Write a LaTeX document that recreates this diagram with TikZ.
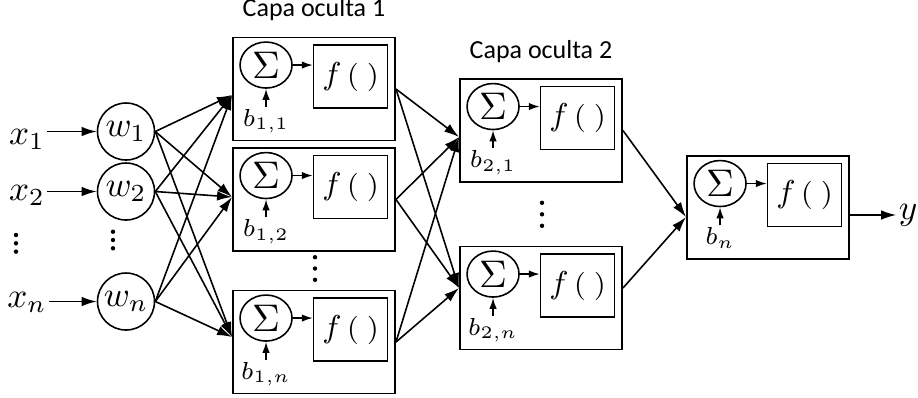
\documentclass[tikz,border=0pt]{standalone}
\usepackage{amsmath}
\usepackage{fontspec}
\setsansfont{Carlito}
\usepackage{tikz}
\usetikzlibrary{shapes, arrows.meta, positioning}

\begin{document}
\begin{tikzpicture}[
        x = 0.1mm, y = -0.1mm,
        line width = 0.45pt,
        cell/.style={rectangle, draw, line width=0.55pt, minimum width=16.2mm, minimum height=10.3mm},
        weight/.style={circle, draw, minimum size=5.7mm, inner sep=0pt, font=\fontsize{9.7}{11}\selectfont},
        sumnode/.style={ellipse, draw, minimum width=5.2mm, minimum height=4.6mm, inner sep=0pt, font=\fontsize{11}{12}\selectfont},
        actbox/.style={rectangle, draw, minimum width=7.4mm, minimum height=6.3mm, inner sep=0pt, font=\fontsize{9.5}{11}\selectfont},
        bias/.style={inner sep=0.5pt, font=\fontsize{7.4}{8}\selectfont},
        signal/.style={inner sep=0.5pt, font=\fontsize{10}{11}\selectfont},
        layer/.style={font=\sffamily\fontsize{7.4}{8}\selectfont},
        line/.style={-{Latex[length=1.5mm, width=0.95mm]}},
        small/.style={-{Latex[length=1.1mm, width=0.75mm]}}
    ]
    \useasboundingbox (0,0) rectangle (918,397);

    % inputs and weights
    \node[signal, anchor=base] (x1) at (27,144) {$x_1$};
    \node[signal, anchor=base] (x2) at (27,200) {$x_2$};
    \node[signal, anchor=base] (xn) at (27,307) {$x_n$};
    \node[weight] (w1) at (126,131.5) {$w_1$};
    \node[weight] (w2) at (126,191.5) {$w_2$};
    \node[weight] (wn) at (126,301.5) {$w_n$};
    \draw[line] (x1.east |- w1) -- (w1);
    \draw[line] (x2.east |- w2) -- (w2);
    \draw[line] (xn.east |- wn) -- (wn);

    % neurons
    \node[cell] (L1a) at (314,89) {};
    \node[cell] (L1b) at (314,199.5) {};
    \node[cell] (L1n) at (314,342) {};
    \node[cell] (L2a) at (541,130.5) {};
    \node[cell] (L2n) at (541,298) {};
    \node[cell] (out) at (768,207.5) {};
    \node[layer, above=0.3mm of L1a] (cap1) {Capa oculta 1};
    \node[layer, above=0.3mm of L2a] (cap2) {Capa oculta 2};

    \foreach \c/\b in {L1a/{1,1}, L1b/{1,2}, L1n/{1,n}, L2a/{2,1}, L2n/{2,n}, out/n} {
        \node[sumnode] (\c-s) at ([shift={(3.4mm,-2.85mm)}]\c.north west) {$\Sigma$};
        \node[actbox] (\c-f) at ([shift={(11.85mm,-4.0mm)}]\c.north west)
            {$f$\,{\fontsize{8}{9}\selectfont$(\;)$}};
        \node[bias, below=1.8mm of \c-s] (\c-b) {$b_{\b}$};
        \draw[small] (\c-b) -- (\c-s);
        \draw[small] (\c-s) -- (\c-s -| \c-f.west);
    }

    % connections
    \foreach \w in {w1,w2,wn}
        \foreach \c/\dy in {L1a/-0.6mm, L1b/0.25mm, L1n/0.5mm}
            \draw[line] (\w.east) -- ([yshift=\dy]\c.west);
    \foreach \c in {L1a,L1b,L1n}
        \foreach \d/\dy in {L2a/-0.65mm, L2n/1mm}
            \draw[line] (\c.east) -- ([yshift=\dy]\d.west);
    \draw[line] (L2a.east) -- ([yshift=-0.95mm]out.west);
    \draw[line] ([yshift=1mm]L2n.east) -- ([yshift=-0.95mm]out.west);
    \node[signal] (y) at (908,215) {$y$};
    \draw[line] ([yshift=-0.75mm]out.east) -- (y);

    % dots
    \foreach \px/\py/\s in {16/243.3/8.3, 113/240/8.3, 315/268.5/11.3, 542/214.3/11.5}
        \foreach \k in {-1,0,1}
            \fill ({\px},{\py+\k*\s}) circle (0.22mm);
\end{tikzpicture}
\end{document}
